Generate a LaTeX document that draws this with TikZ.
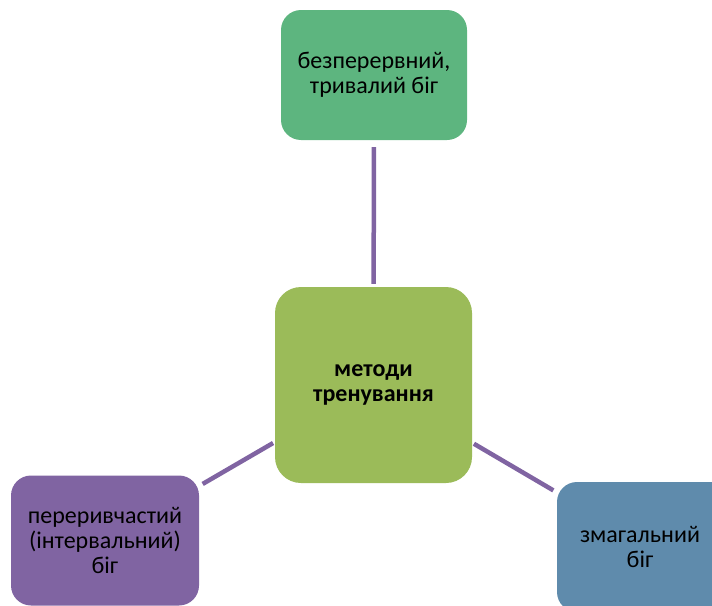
\documentclass[tikz,border=0pt]{standalone}
\usepackage{fontspec}
\setmainfont{Carlito}
\definecolor{topG}{HTML}{5DB57F}
\definecolor{midG}{HTML}{9BBB59}
\definecolor{purp}{HTML}{8064A2}
\definecolor{blueB}{HTML}{5F8BAC}
\definecolor{lineP}{HTML}{8064A2}
\tikzset{
  box/.style={rectangle, rounded corners=20pt, inner sep=0pt, minimum width=186pt, minimum height=130pt, align=center, font=\fontsize{24}{25}\selectfont},
  conn/.style={draw=lineP, line width=4.5pt},
}
\begin{document}
\begin{tikzpicture}[x=1pt,y=-1pt]
\useasboundingbox (0,0) rectangle (712,605);
\clip (0,0) rectangle (712,605);
\node[box, fill=topG] (top) at (374,75) {безперервний,\\тривалий біг};
\node[box, fill=midG, minimum width=197pt, minimum height=196pt, rounded corners=26pt, font=\fontsize{24}{25}\selectfont\bfseries] (mid) at (373.5,385) {методи\\тренування};
\node[box, fill=purp, minimum width=188pt] (left) at (105,540.5) {переривчастий\\(інтервальний)\\біг};
\node[box, fill=blueB] (right) at (650,547) {};
\node[align=center, font=\fontsize{24}{25}\selectfont, inner sep=0pt] (rtxt) at (640,547) {змагальний\\біг};
\draw[conn, shorten <=7pt, shorten >=3pt] (top) -- (mid);
\draw[conn, shorten <=2pt, shorten >=4pt] (mid) -- (left);
\draw[conn, shorten <=2pt, shorten >=4pt] (mid) -- (right);
\end{tikzpicture}
\end{document}
